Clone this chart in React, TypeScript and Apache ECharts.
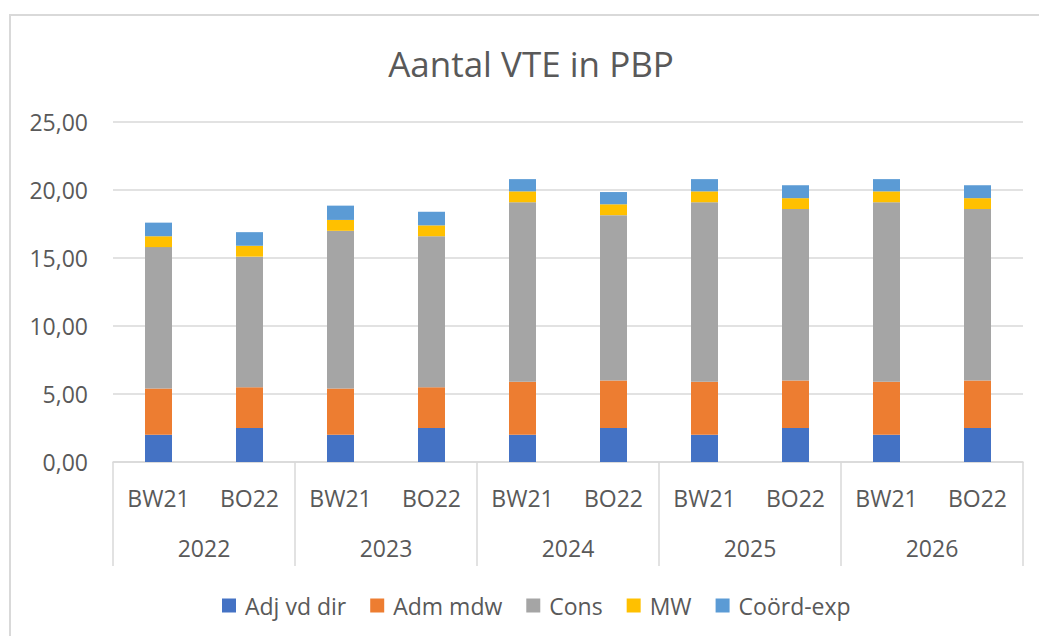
import React, { useEffect, useRef } from "react";
import * as echarts from "echarts";

const subCategories = ["BW21", "BO22", "BW21", "BO22", "BW21", "BO22", "BW21", "BO22", "BW21", "BO22"];
const years = ["2022", "2023", "2024", "2025", "2026"];
const seriesNames = ["Adj vd dir", "Adm mdw", "Cons", "MW", "Coörd-exp"];
const adjVdDir = [2.0, 2.5, 2.0, 2.5, 2.0, 2.5, 2.0, 2.5, 2.0, 2.5];
const admMdw = [3.4, 3.0, 3.4, 3.0, 3.9, 3.5, 3.9, 3.5, 3.9, 3.5];
const cons = [10.4, 9.6, 11.6, 11.1, 13.2, 12.15, 13.2, 12.6, 13.2, 12.6];
const mw = [0.8, 0.8, 0.8, 0.8, 0.8, 0.8, 0.8, 0.8, 0.8, 0.8];
const coordExp = [1.0, 1.0, 1.05, 1.0, 0.9, 0.9, 0.9, 0.95, 0.9, 0.95];
const yTicks = { min: 0, max: 25, interval: 5 };
const colors = ["#4472C4", "#ED7D31", "#A5A5A5", "#FFC000", "#5B9BD5"];

const FONT = "'Open Sans', sans-serif";
const TEXT = "#595959";
const GRID = "#d9d9d9";

export default function App() {
  const ref = useRef<HTMLDivElement>(null);
  useEffect(() => {
    if (!ref.current) return;
    const chart = echarts.init(ref.current, undefined, { renderer: "svg" });
    const values = [adjVdDir, admMdw, cons, mw, coordExp];
    chart.setOption({
      animation: false,
      color: colors,
      graphic: [
        {
          type: "rect",
          shape: { x: 10, y: 15, width: 1100, height: 700 },
          style: { fill: "none", stroke: GRID, lineWidth: 2 },
          silent: true,
        },
        {
          type: "text",
          x: 531,
          y: 63,
          style: {
            text: "Aantal VTE in PBP",
            fill: TEXT,
            font: `35px ${FONT}`,
            textAlign: "center",
            textVerticalAlign: "middle",
          },
        },
      ],
      legend: {
        data: seriesNames,
        top: 589,
        left: 217,
        itemWidth: 14,
        itemHeight: 14,
        itemGap: 24,
        icon: "rect",
        textStyle: { color: TEXT, fontSize: 23, fontFamily: FONT, padding: [0, 0, 0, 4] },
      },
      grid: { left: 113, right: 16, top: 122, bottom: 174, containLabel: false },
      xAxis: [
        {
          type: "category",
          data: subCategories,
          position: "bottom",
          axisLine: { show: true, lineStyle: { color: GRID, width: 1.5 } },
          axisTick: { show: false },
          axisLabel: { color: TEXT, fontSize: 23, fontFamily: FONT, margin: 24, interval: 0 },
        },
        {
          type: "category",
          data: years,
          position: "bottom",
          axisLine: { show: false },
          axisTick: { show: true, length: 104, lineStyle: { color: GRID, width: 1.5 }, interval: 0 },
          axisLabel: { color: TEXT, fontSize: 23, fontFamily: FONT, margin: 74, interval: 0 },
          splitLine: { show: false },
        },
      ],
      yAxis: {
        type: "value",
        min: yTicks.min,
        max: yTicks.max,
        interval: yTicks.interval,
        axisLine: { show: false },
        axisTick: { show: false },
        splitLine: { lineStyle: { color: GRID, width: 1.5 } },
        axisLabel: {
          color: TEXT,
          fontSize: 23,
          fontFamily: FONT,
          margin: 25,
          formatter: (v: number) => v.toFixed(2).replace(".", ","),
        },
      },
      series: seriesNames.map((name, i) => ({
        name,
        type: "bar",
        stack: "total",
        xAxisIndex: 0,
        barWidth: 27,
        data: values[i],
        itemStyle: { color: colors[i] },
      })),
    });
    return () => chart.dispose();
  }, []);
  return (
    <div
      ref={ref}
      style={{ position: "fixed", left: 0, top: 0, width: 1039, height: 636, background: "#fff" }}
    />
  );
}
